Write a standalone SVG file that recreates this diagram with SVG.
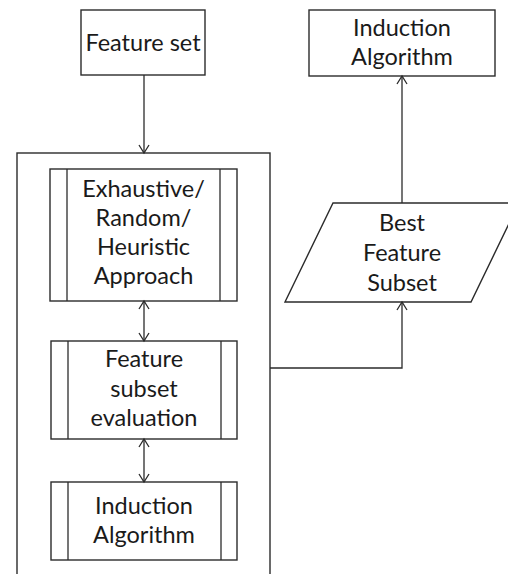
<svg xmlns="http://www.w3.org/2000/svg" width="508" height="574" viewBox="0 0 508 574">
  <style>
    .box { fill: #ffffff; stroke: #2b2b2b; stroke-width: 1.4; }
    .edge { fill: none; stroke: #2b2b2b; stroke-width: 1.3; }
    .label { font-family: Lato, "Open Sans", "Liberation Sans", sans-serif; font-size: 23.5px; fill: #1a1a1a; text-anchor: middle; }
  </style>
  <defs>
    <marker id="head" viewBox="0 0 12 12" refX="10" refY="6" markerWidth="12" markerHeight="12" markerUnits="userSpaceOnUse" orient="auto-start-reverse">
      <polyline points="2,1 10,6 2,11" fill="none" stroke="#2b2b2b" stroke-width="1.3"/>
    </marker>
  </defs>

  <rect width="508" height="574" fill="#ffffff"/>

  <!-- container of the selection loop (bottom edge runs past the canvas) -->
  <g id="container">
    <rect class="box" x="17" y="153" width="253" height="440"/>
  </g>

  <g id="feature-set">
    <rect class="box" x="81" y="10" width="124" height="65"/>
    <text class="label" x="143" y="51">Feature set</text>
  </g>

  <g id="induction-top">
    <rect class="box" x="309" y="10" width="186" height="66"/>
    <text class="label" x="402" y="36">Induction</text>
    <text class="label" x="402" y="65">Algorithm</text>
  </g>

  <g id="search-approach">
    <rect class="box" x="50" y="169" width="187" height="132"/>
    <line class="edge" x1="67" y1="169" x2="67" y2="301"/>
    <line class="edge" x1="220" y1="169" x2="220" y2="301"/>
    <text class="label" x="143.5" y="197">Exhaustive/</text>
    <text class="label" x="143.5" y="226">Random/</text>
    <text class="label" x="143.5" y="255">Heuristic</text>
    <text class="label" x="143.5" y="284">Approach</text>
  </g>

  <g id="subset-evaluation">
    <rect class="box" x="51" y="341" width="186" height="98"/>
    <line class="edge" x1="68" y1="341" x2="68" y2="439"/>
    <line class="edge" x1="221" y1="341" x2="221" y2="439"/>
    <text class="label" x="144" y="367">Feature</text>
    <text class="label" x="144" y="397">subset</text>
    <text class="label" x="144" y="426">evaluation</text>
  </g>

  <g id="induction-inner">
    <rect class="box" x="51" y="482" width="186" height="78"/>
    <line class="edge" x1="68" y1="482" x2="68" y2="560"/>
    <line class="edge" x1="221" y1="482" x2="221" y2="560"/>
    <text class="label" x="144" y="514">Induction</text>
    <text class="label" x="144" y="543">Algorithm</text>
  </g>

  <g id="best-subset">
    <polygon class="box" points="333,203 519,203 471,302 285,302"/>
    <text class="label" x="402" y="231">Best</text>
    <text class="label" x="402" y="261">Feature</text>
    <text class="label" x="402" y="291">Subset</text>
  </g>

  <g id="connectors">
    <line class="edge" x1="144" y1="75" x2="144" y2="153" marker-end="url(#head)"/>
    <line class="edge" x1="144" y1="301" x2="144" y2="341" marker-start="url(#head)" marker-end="url(#head)"/>
    <line class="edge" x1="144" y1="439" x2="144" y2="482" marker-start="url(#head)" marker-end="url(#head)"/>
    <polyline class="edge" points="270,368 402,368 402,302" marker-end="url(#head)"/>
    <line class="edge" x1="402" y1="203" x2="402" y2="76" marker-end="url(#head)"/>
  </g>
</svg>
